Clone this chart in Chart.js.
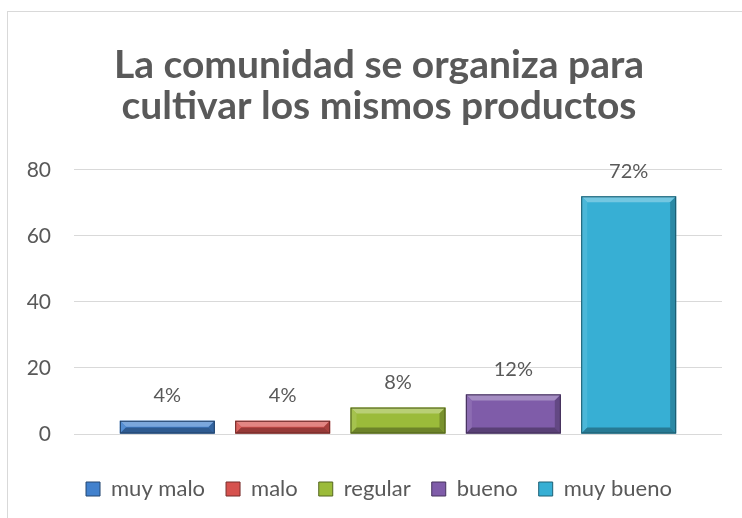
<!DOCTYPE html>
<html>
<head>
<meta charset="utf-8">
<script src="https://cdn.jsdelivr.net/npm/chart.js@4/dist/chart.umd.min.js"></script>
<style>
  html, body { margin: 0; padding: 0; background: #fff; overflow: hidden; }
  #frame { position: absolute; left: 7px; top: 11px; width: 760px; height: 530px; border: 1px solid #d9d9d9; }
  #wrap { position: absolute; left: 0; top: 0; width: 742px; height: 518px; }
</style>
</head>
<body>
<div id="frame"></div>
<div id="wrap"><canvas id="c" width="742" height="518"></canvas></div>
<script>
const titleLines = ["La comunidad se organiza para", "cultivar los mismos productos"];
const seriesNames = ["muy malo", "malo", "regular", "bueno", "muy bueno"];
const seriesValues = [4, 4, 8, 12, 72];
const valueLabels = ["4%", "4%", "8%", "12%", "72%"];
const seriesColors = ["#4281CD", "#D6524E", "#9BBB3A", "#7F5CA9", "#37AFD4"];
const yTicks = [0, 20, 40, 60, 80];

const FONT = "Lato, 'Liberation Sans', sans-serif";
const TXT = "#595959";

function shade(hex, amt) {
  const n = parseInt(hex.slice(1), 16);
  let r = (n >> 16) & 255, g = (n >> 8) & 255, b = n & 255;
  const f = v => Math.max(0, Math.min(255, Math.round(amt >= 0 ? v + (255 - v) * amt : v * (1 + amt))));
  return `rgb(${f(r)},${f(g)},${f(b)})`;
}

const bevelPlugin = {
  id: 'bevel',
  afterDatasetsDraw(chart) {
    const ctx = chart.ctx;
    chart.data.datasets.forEach((ds, i) => {
      const meta = chart.getDatasetMeta(i);
      meta.data.forEach(bar => {
        const w = bar.width, x0 = bar.x - w / 2, x1 = bar.x + w / 2;
        const y0 = Math.min(bar.y, bar.base), y1 = Math.max(bar.y, bar.base);
        const h = y1 - y0;
        const b = Math.min(6, h / 2);
        const col = seriesColors[i];
        ctx.save();
        ctx.fillStyle = shade(col, 0.3);
        ctx.beginPath(); ctx.moveTo(x0, y0); ctx.lineTo(x1, y0); ctx.lineTo(x1 - b, y0 + b); ctx.lineTo(x0 + b, y0 + b); ctx.closePath(); ctx.fill();
        ctx.fillStyle = shade(col, 0.1);
        ctx.beginPath(); ctx.moveTo(x0, y0); ctx.lineTo(x0 + b, y0 + b); ctx.lineTo(x0 + b, y1 - b); ctx.lineTo(x0, y1); ctx.closePath(); ctx.fill();
        ctx.fillStyle = shade(col, -0.22);
        ctx.beginPath(); ctx.moveTo(x1, y0); ctx.lineTo(x1 - b, y0 + b); ctx.lineTo(x1 - b, y1 - b); ctx.lineTo(x1, y1); ctx.closePath(); ctx.fill();
        ctx.fillStyle = shade(col, -0.3);
        ctx.beginPath(); ctx.moveTo(x0, y1); ctx.lineTo(x0 + b, y1 - b); ctx.lineTo(x1 - b, y1 - b); ctx.lineTo(x1, y1); ctx.closePath(); ctx.fill();
        ctx.strokeStyle = shade(col, -0.5);
        ctx.lineWidth = 1;
        ctx.strokeRect(x0 + 0.5, y0 + 0.5, w - 1, h - 1);
        ctx.restore();
      });
    });
  }
};

const labelPlugin = {
  id: 'valueLabels',
  afterDatasetsDraw(chart) {
    const ctx = chart.ctx;
    ctx.save();
    ctx.font = `20px ${FONT}`;
    ctx.fillStyle = TXT;
    ctx.textAlign = 'center';
    ctx.textBaseline = 'middle';
    chart.data.datasets.forEach((ds, i) => {
      const meta = chart.getDatasetMeta(i);
      meta.data.forEach(bar => {
        ctx.fillText(valueLabels[i], bar.x, bar.y - 25);
      });
    });
    ctx.restore();
  }
};

const datasets = seriesNames.map((name, i) => ({
  label: name,
  data: [seriesValues[i]],
  backgroundColor: seriesColors[i],
  borderWidth: 0,
  categoryPercentage: 0.89,
  barPercentage: 0.823
}));

new Chart(document.getElementById('c'), {
  type: 'bar',
  data: { labels: [""], datasets },
  plugins: [bevelPlugin, labelPlugin],
  options: {
    responsive: false,
    animation: false,
    layout: { padding: { left: 36, right: 20, top: 0, bottom: 8 } },
    plugins: {
      tooltip: { enabled: false },
      title: {
        display: true,
        text: titleLines,
        color: TXT,
        font: { family: FONT, size: 39, weight: 'bold', lineHeight: 1.05 },
        padding: { top: 45, bottom: 43 }
      },
      legend: {
        position: 'bottom',
        labels: {
          color: TXT,
          font: { family: FONT, size: 22 },
          boxWidth: 14,
          boxHeight: 14,
          padding: 21,
          generateLabels(chart) {
            return chart.data.datasets.map((ds, i) => ({
              text: ds.label,
              fillStyle: seriesColors[i],
              strokeStyle: shade(seriesColors[i], -0.45),
              lineWidth: 1,
              fontColor: TXT,
              datasetIndex: i,
              hidden: false
            }));
          }
        }
      }
    },
    scales: {
      x: {
        display: true,
        grid: { display: false },
        border: { display: false },
        ticks: { display: false },
        afterFit(scale) { scale.height = 23; }
      },
      y: {
        min: 0,
        max: 80,
        afterBuildTicks(scale) { scale.ticks = yTicks.map(v => ({ value: v })); },
        afterFit(scale) {
          scale.width = 38;
          scale._computeLabelArea = () => undefined;
        },
        grid: { color: '#d9d9d9', lineWidth: 1, drawTicks: false },
        border: { display: false },
        ticks: { color: TXT, font: { family: FONT, size: 21 }, padding: 23 }
      }
    }
  }
});
</script>
</body>
</html>
